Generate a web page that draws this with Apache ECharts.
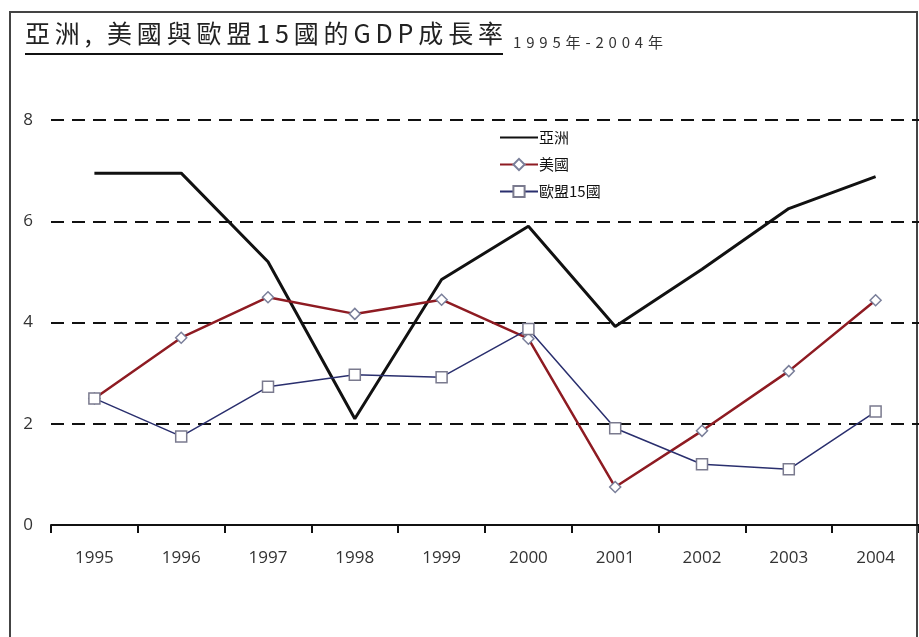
<!DOCTYPE html>
<html>
<head>
<meta charset="utf-8">
<script src="https://cdn.jsdelivr.net/npm/echarts@6/dist/echarts.min.js"></script>
<style>
html,body{margin:0;padding:0;background:#fff;}
#chart{width:919px;height:637px;}
</style>
</head>
<body>
<div id="chart"></div>
<script>
const categories = ['1995','1996','1997','1998','1999','2000','2001','2002','2003','2004'];
const seriesNames = ['亞洲','美國','歐盟15國'];
const asia = [6.95, 6.95, 5.2, 2.1, 4.85, 5.9, 3.92, 5.05, 6.25, 6.88];
const usa  = [2.5, 3.7, 4.5, 4.17, 4.45, 3.68, 0.75, 1.86, 3.04, 4.44];
const eu15 = [2.5, 1.75, 2.73, 2.97, 2.92, 3.87, 1.91, 1.2, 1.1, 2.24];
const yTicks = [0, 2, 4, 6, 8];
const titleText = '亞洲, 美國與歐盟15國的GDP成長率';
const subtitleText = '1995年-2004年';

const cjk = '"Noto Sans CJK TC","Noto Sans CJK SC",sans-serif';

// spread a string's characters so it spans a given width (letter spacing)
function spacedText(text, font, x0, x1, top, color) {
  const ctx = document.createElement('canvas').getContext('2d');
  ctx.font = font;
  const chars = Array.from(text);
  const widths = chars.map(c => ctx.measureText(c).width);
  const total = widths.reduce((a, b) => a + b, 0);
  const gap = (x1 - x0 - total) / (chars.length - 1);
  const els = [];
  let x = x0;
  chars.forEach((c, i) => {
    els.push({type:'text', z:10, x:x, y:top, style:{text:c, font:font, fill:color, textVerticalAlign:'top'}});
    x += widths[i] + gap;
  });
  return els;
}

const graphics = [
  {type:'rect', z:0, shape:{x:10, y:12, width:907, height:640}, style:{fill:'none', stroke:'#444', lineWidth:2}},
  {type:'line', z:10, shape:{x1:25, y1:54, x2:503, y2:54}, style:{stroke:'#111', lineWidth:2}}
].concat(
  spacedText(titleText, '25px ' + cjk, 25, 503, 21, '#222'),
  spacedText(subtitleText, '15px ' + cjk, 513, 663, 35, '#333')
);

const chart = echarts.init(document.getElementById('chart'), null, {renderer:'canvas'});
chart.setOption({
  backgroundColor:'#fff',
  animation:false,
  graphic:graphics,
  legend:{
    orient:'vertical', left:494, top:125,
    itemWidth:38, itemHeight:14, itemGap:12,
    data:[
      {name:seriesNames[0], itemStyle:{opacity:0}},
      {name:seriesNames[1]},
      {name:seriesNames[2]}
    ],
    textStyle:{fontSize:15, color:'#111', fontFamily:cjk, padding:[0,0,0,-4]}
  },
  grid:{left:51, top:120, width:872, height:405},
  xAxis:{
    type:'category', data:categories, boundaryGap:true,
    axisLine:{lineStyle:{color:'#111', width:2}},
    axisTick:{show:true, length:8, lineStyle:{color:'#111', width:2}},
    axisLabel:{fontSize:17, color:'#333', margin:25, fontFamily:'"Open Sans",sans-serif'},
    splitLine:{show:false}
  },
  yAxis:{
    type:'value', min:yTicks[0], max:yTicks[yTicks.length-1], interval:2,
    axisLine:{show:false}, axisTick:{show:false},
    axisLabel:{fontSize:17, color:'#333', margin:18, fontFamily:'"Open Sans",sans-serif'},
    splitLine:{lineStyle:{color:'#111', width:2, type:[13,8]}}
  },
  series:[
    {name:seriesNames[0], type:'line', data:asia, symbol:'none',
     lineStyle:{color:'#111', width:3}, itemStyle:{color:'#111'}, z:3},
    {name:seriesNames[1], type:'line', data:usa, symbol:'diamond', symbolSize:11,
     lineStyle:{color:'#8e1b22', width:2.5},
     itemStyle:{color:'#fff', borderColor:'#7a7f9a', borderWidth:1.5}, z:4},
    {name:seriesNames[2], type:'line', data:eu15, symbol:'rect', symbolSize:11,
     lineStyle:{color:'#2a2f6e', width:1.5},
     itemStyle:{color:'#fff', borderColor:'#7a7a8e', borderWidth:1.5}, z:5}
  ]
});
</script>
</body>
</html>
